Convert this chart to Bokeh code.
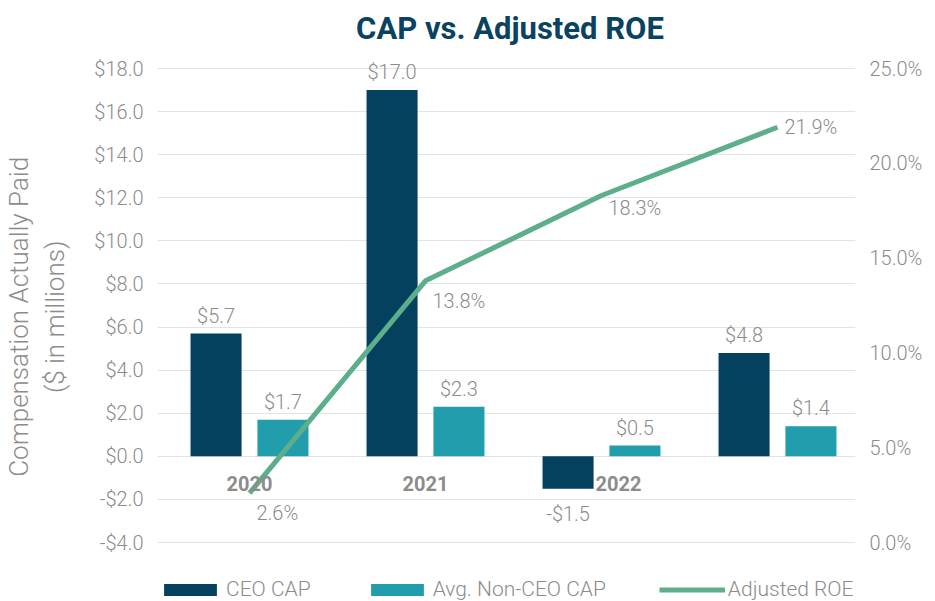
from bokeh.plotting import figure
from bokeh.models import (Range1d, LinearAxis, FixedTicker, NumeralTickFormatter,
                          PrintfTickFormatter, Legend, LegendItem, Grid)
from bokeh.core.properties import value
from bokeh.embed import file_html
from bokeh.resources import INLINE

# ---- data ----
title_text = "CAP vs. Adjusted ROE"
years = ["2020", "2021", "2022", ""]
ceo_cap = [5.7, 17.0, -1.5, 4.8]
non_ceo_cap = [1.7, 2.3, 0.5, 1.4]
adj_roe = [2.6, 13.8, 18.3, 21.9]
left_ticks = [-4, -2, 0, 2, 4, 6, 8, 10, 12, 14, 16, 18]
right_ticks = [0, 5, 10, 15, 20, 25]
series_names = ["CEO CAP", "Avg. Non-CEO CAP", "Adjusted ROE"]

# ---- styles / layout ----
NAVY = "#03415F"
TEAL = "#219DAB"
GREEN = "#5DAE8B"
GRAY = "#8C8C8C"
TITLE_C = "#0A4261"
FONT = "Roboto Light"
BOLD_FONT = "Roboto"

W, H = 935, 601
AXIS_TOP_PX, AXIS_BOT_PX = 68.0, 542.0      # pixel rows of the first / last tick
FRAME_L, FRAME_R = 157, 855
CAT0_PX, CAT_STEP_PX = 249.0, 176.0        # pixel column of first category, spacing

l0, l1 = left_ticks[0], left_ticks[-1]
r0, r1 = right_ticks[0], right_ticks[-1]
axis_px = AXIS_BOT_PX - AXIS_TOP_PX
lppu = axis_px / (l1 - l0)
rppu = axis_px / (r1 - r0)
y_lo, y_hi = l0 - (H - AXIS_BOT_PX) / lppu, l1 + AXIS_TOP_PX / lppu
ry_lo, ry_hi = r0 - (H - AXIS_BOT_PX) / rppu, r1 + AXIS_TOP_PX / rppu
x_lo = (FRAME_L - CAT0_PX) / CAT_STEP_PX
x_hi = (FRAME_R - CAT0_PX) / CAT_STEP_PX

pos = list(range(len(years)))
ceo_x = [i - 0.19 for i in pos]
non_x = [i + 0.19 for i in pos]
bar_w = 0.29

p = figure(width=W, height=H, output_backend="svg", toolbar_location=None, title=None,
           x_range=Range1d(x_lo, x_hi), y_range=Range1d(y_lo, y_hi),
           x_axis_location=None, y_axis_location=None,
           min_border_left=FRAME_L, min_border_right=W - FRAME_R,
           min_border_top=0, min_border_bottom=0)
p.outline_line_color = None
p.center = [r for r in p.center if not isinstance(r, Grid)]
p.extra_y_ranges = {"roe": Range1d(ry_lo, ry_hi)}

left_ticker = FixedTicker(ticks=left_ticks)
pad = "\u00a0" * 5
yl = LinearAxis(ticker=left_ticker, formatter=NumeralTickFormatter(format="$0.0"),
                axis_label="Compensation Actually Paid" + pad + "\n($ in millions)" + pad)
yr = LinearAxis(y_range_name="roe", ticker=FixedTicker(ticks=right_ticks),
                formatter=PrintfTickFormatter(format="%.1f%%"))
for ax in (yl, yr):
    ax.axis_line_color = None
    ax.major_tick_in = 0
    ax.major_tick_out = 0
    ax.minor_tick_in = 0
    ax.minor_tick_out = 0
    ax.major_label_text_color = GRAY
    ax.major_label_text_font = FONT
    ax.major_label_text_font_size = "20px"
    ax.major_label_standoff = 14
yl.axis_label_text_font = FONT
yl.axis_label_text_font_size = "26px"
yl.axis_label_text_font_style = "normal"
yl.axis_label_text_color = GRAY
yl.axis_label_standoff = 21
p.add_layout(yl, "left")
p.add_layout(yr, "right")

p.add_layout(Grid(dimension=1, ticker=left_ticker, grid_line_color="#E3E3E3", grid_line_width=1))

r_ceo = p.vbar(x=ceo_x, top=ceo_cap, bottom=0, width=bar_w, fill_color=NAVY, line_color=None)
r_non = p.vbar(x=non_x, top=non_ceo_cap, bottom=0, width=bar_w, fill_color=TEAL, line_color=None)
r_roe = p.line(x=pos, y=adj_roe, y_range_name="roe", line_color=GREEN, line_width=5)

# title (drawn inside the frame, which reaches the top of the canvas)
title_x = (509.5 - CAT0_PX) / CAT_STEP_PX
title_y = l1 + (AXIS_TOP_PX - 28.0) / lppu
p.text(x=[title_x], y=[title_y], text=[title_text], text_font=value(BOLD_FONT),
       text_font_size="31px", text_font_style="bold", text_color=TITLE_C,
       text_align="center", text_baseline="middle")


def money(v):
    return ("-" if v < 0 else "") + "$%.1f" % abs(v)


lab_kw = dict(text_font=value(FONT), text_font_size="20px", text_color=GRAY,
              text_align="center", text_baseline="middle")
bx = ceo_x + non_x
bv = ceo_cap + non_ceo_cap
pos_x = [x for x, v in zip(bx, bv) if v >= 0]
pos_v = [v for v in bv if v >= 0]
neg_x = [x for x, v in zip(bx, bv) if v < 0]
neg_v = [v for v in bv if v < 0]
p.text(x=pos_x, y=pos_v, text=[money(v) for v in pos_v], y_offset=-18, **lab_kw)
p.text(x=neg_x, y=neg_v, text=[money(v) for v in neg_v], y_offset=25, **lab_kw)

# ROE labels
roe_dy = [20, 20, 12, 0]
p.text(x=pos, y=adj_roe, y_range_name="roe", text=["%.1f%%" % v for v in adj_roe],
       x_offset=7, y_offset=roe_dy, text_font=value(FONT), text_font_size="20px",
       text_color=GRAY, text_align="left", text_baseline="middle")

# category labels near zero line
cat_dx = [0, 0, 17, 0]
p.text(x=pos, y=[0] * len(pos), text=years, x_offset=cat_dx, y_offset=27,
       text_font=value(BOLD_FONT), text_font_size="20px", text_font_style="bold",
       text_color=GRAY, text_align="center", text_baseline="middle")

legend = Legend(items=[LegendItem(label=series_names[0], renderers=[r_ceo]),
                       LegendItem(label=series_names[1], renderers=[r_non]),
                       LegendItem(label=series_names[2], renderers=[r_roe])],
                orientation="horizontal", location=(0, 0), spacing=53,
                padding=0, margin=0, glyph_width=66, glyph_height=15, label_standoff=3,
                border_line_color=None, background_fill_alpha=0,
                label_text_font=FONT, label_text_font_size="21px", label_text_color=GRAY)
p.add_layout(legend)

open("out.html", "w").write(file_html(p, INLINE))
